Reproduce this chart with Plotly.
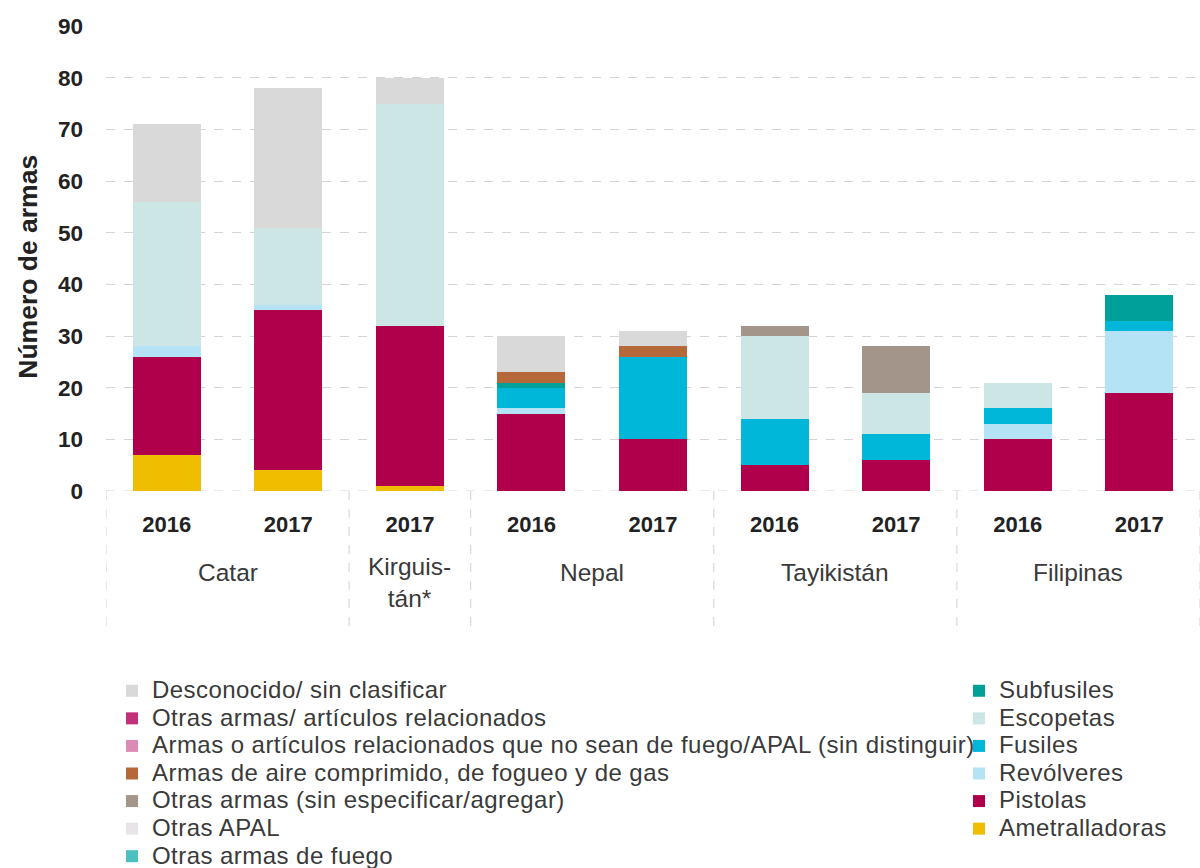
import plotly.graph_objects as go

# Country group per bar (bottom label) and year per bar (tick label)
paises = ["Catar", "Catar", "Kirguis-<br>tán*", "Nepal", "Nepal",
          "Tayikistán", "Tayikistán", "Filipinas", "Filipinas"]
anios = ["2016", "2017", "2017", "2016", "2017", "2016", "2017", "2016", "2017"]

# Weapon counts per category, listed from the bottom of the stack upwards
ametralladoras = [7, 4, 1, 0, 0, 0, 0, 0, 0]
pistolas = [19, 31, 31, 15, 10, 5, 6, 10, 19]
revolveres = [2, 1, 0, 1, 0, 0, 0, 3, 12]
fusiles = [0, 0, 0, 4, 16, 9, 5, 3, 2]
escopetas = [28, 15, 43, 0, 0, 16, 8, 5, 0]
subfusiles = [0, 0, 0, 1, 0, 0, 0, 0, 5]
otras_fuego = [0, 0, 0, 0, 0, 0, 0, 0, 0]
otras_apal = [0, 0, 0, 0, 0, 0, 0, 0, 0]
otras_sin_especificar = [0, 0, 0, 0, 0, 2, 9, 0, 0]
aire_comprimido = [0, 0, 0, 2, 2, 0, 0, 0, 0]
no_fuego = [0, 0, 0, 0, 0, 0, 0, 0, 0]
otras_articulos = [0, 0, 0, 0, 0, 0, 0, 0, 0]
desconocido = [15, 27, 5, 7, 3, 0, 0, 0, 0]

# (name, values, colour, legend column)
series = [
    ("Ametralladoras", ametralladoras, "#f0be00", "legend2"),
    ("Pistolas", pistolas, "#b0004c", "legend2"),
    ("Revólveres", revolveres, "#b4e3f6", "legend2"),
    ("Fusiles", fusiles, "#00b6d9", "legend2"),
    ("Escopetas", escopetas, "#cce6e6", "legend2"),
    ("Subfusiles", subfusiles, "#00a09a", "legend2"),
    ("Otras armas de fuego", otras_fuego, "#4cc0c0", "legend"),
    ("Otras APAL", otras_apal, "#e8e4e8", "legend"),
    ("Otras armas (sin especificar/agregar)", otras_sin_especificar, "#a39589", "legend"),
    ("Armas de aire comprimido, de fogueo y de gas", aire_comprimido, "#b5693a", "legend"),
    ("Armas o artículos relacionados que no sean de fuego/APAL (sin distinguir)", no_fuego, "#dc8cb4", "legend"),
    ("Otras armas/ artículos relacionados", otras_articulos, "#c2307a", "legend"),
    ("Desconocido/ sin clasificar", desconocido, "#d9d9d9", "legend"),
]

FONT = "Liberation Sans"
TEXT = "#3a3a3a"
DARK = "#222222"
GRID = "#d4d4d4"
LEG_STYLE = "font-size:24px;letter-spacing:0.45px"

posiciones = list(range(len(anios)))

fig = go.Figure()
for nombre, valores, color, leyenda in series:
    fig.add_trace(go.Bar(
        x=posiciones, y=valores, name=f"<span style='{LEG_STYLE}'>{nombre}</span>",
        marker=dict(color=color, line=dict(width=0)),
        width=0.56, legend=leyenda,
    ))

# Country labels centred under each group of bars
grupos = []
for i, p in enumerate(paises):
    if grupos and grupos[-1][0] == p:
        grupos[-1][1].append(i)
    else:
        grupos.append((p, [i]))

for p, idx in grupos:
    fig.add_annotation(
        x=sum(idx) / len(idx), xref="x", y=-0.142, yref="paper",
        yshift=6 if "<br>" in p else 0,
        text=p, showarrow=False, yanchor="top",
        font=dict(family=FONT, size=24.5, color=TEXT),
    )

# Dashed separators between country groups
limites = [-0.5] + [idx[-1] + 0.5 for _, idx in grupos]
for b in limites:
    fig.add_shape(type="line", xref="x", yref="paper", x0=b, x1=b, y0=0, y1=-0.295,
                  line=dict(color="#d9d9d9", width=1.2, dash="dash"))

# Dashed baseline at zero, matching the grid
fig.add_shape(type="line", xref="paper", yref="y", x0=0, x1=1, y0=0, y1=0,
              layer="below", line=dict(color=GRID, width=1.2, dash="dash"))

fig.add_annotation(
    text="<b>Número de armas</b>", textangle=-90, showarrow=False,
    xref="paper", yref="paper", x=-0.071, y=0.483, xanchor="center", yanchor="middle",
    font=dict(family=FONT, size=26.5, color=DARK),
)

fig.update_layout(
    width=1200, height=868,
    margin=dict(l=106, r=0, t=26, b=377, autoexpand=False),
    barmode="stack",
    plot_bgcolor="white", paper_bgcolor="white",
    font=dict(family=FONT, color=TEXT),
    xaxis=dict(
        range=[-0.5, 8.5], tickmode="array", tickvals=posiciones,
        ticktext=[f"<b>{a}</b>" for a in anios],
        showgrid=False, zeroline=False, showline=False, ticks="",
        tickfont=dict(family=FONT, size=22, color=DARK),
        ticklabelstandoff=18, automargin=False,
    ),
    yaxis=dict(
        range=[0, 90], tickvals=list(range(0, 91, 10)),
        ticktext=[f"<b>{v}</b>" for v in range(0, 91, 10)],
        showgrid=True, gridcolor=GRID, griddash="dash", gridwidth=1.2,
        zeroline=False, showline=False, ticks="",
        tickfont=dict(family=FONT, size=22.5, color=DARK),
        ticklabelstandoff=22, automargin=False,
    ),
    legend=dict(
        xref="container", yref="container", x=112 / 1200, y=1 - 672 / 868,
        xanchor="left", yanchor="top", traceorder="reversed",
        font=dict(family=FONT, size=18.9, color=TEXT), bgcolor="rgba(0,0,0,0)",
    ),
    legend2=dict(
        xref="container", yref="container", x=959 / 1200, y=1 - 672 / 868,
        xanchor="left", yanchor="top", traceorder="reversed",
        font=dict(family=FONT, size=18.9, color=TEXT), bgcolor="rgba(0,0,0,0)",
    ),
    showlegend=True,
)

fig.write_html("out.html")
